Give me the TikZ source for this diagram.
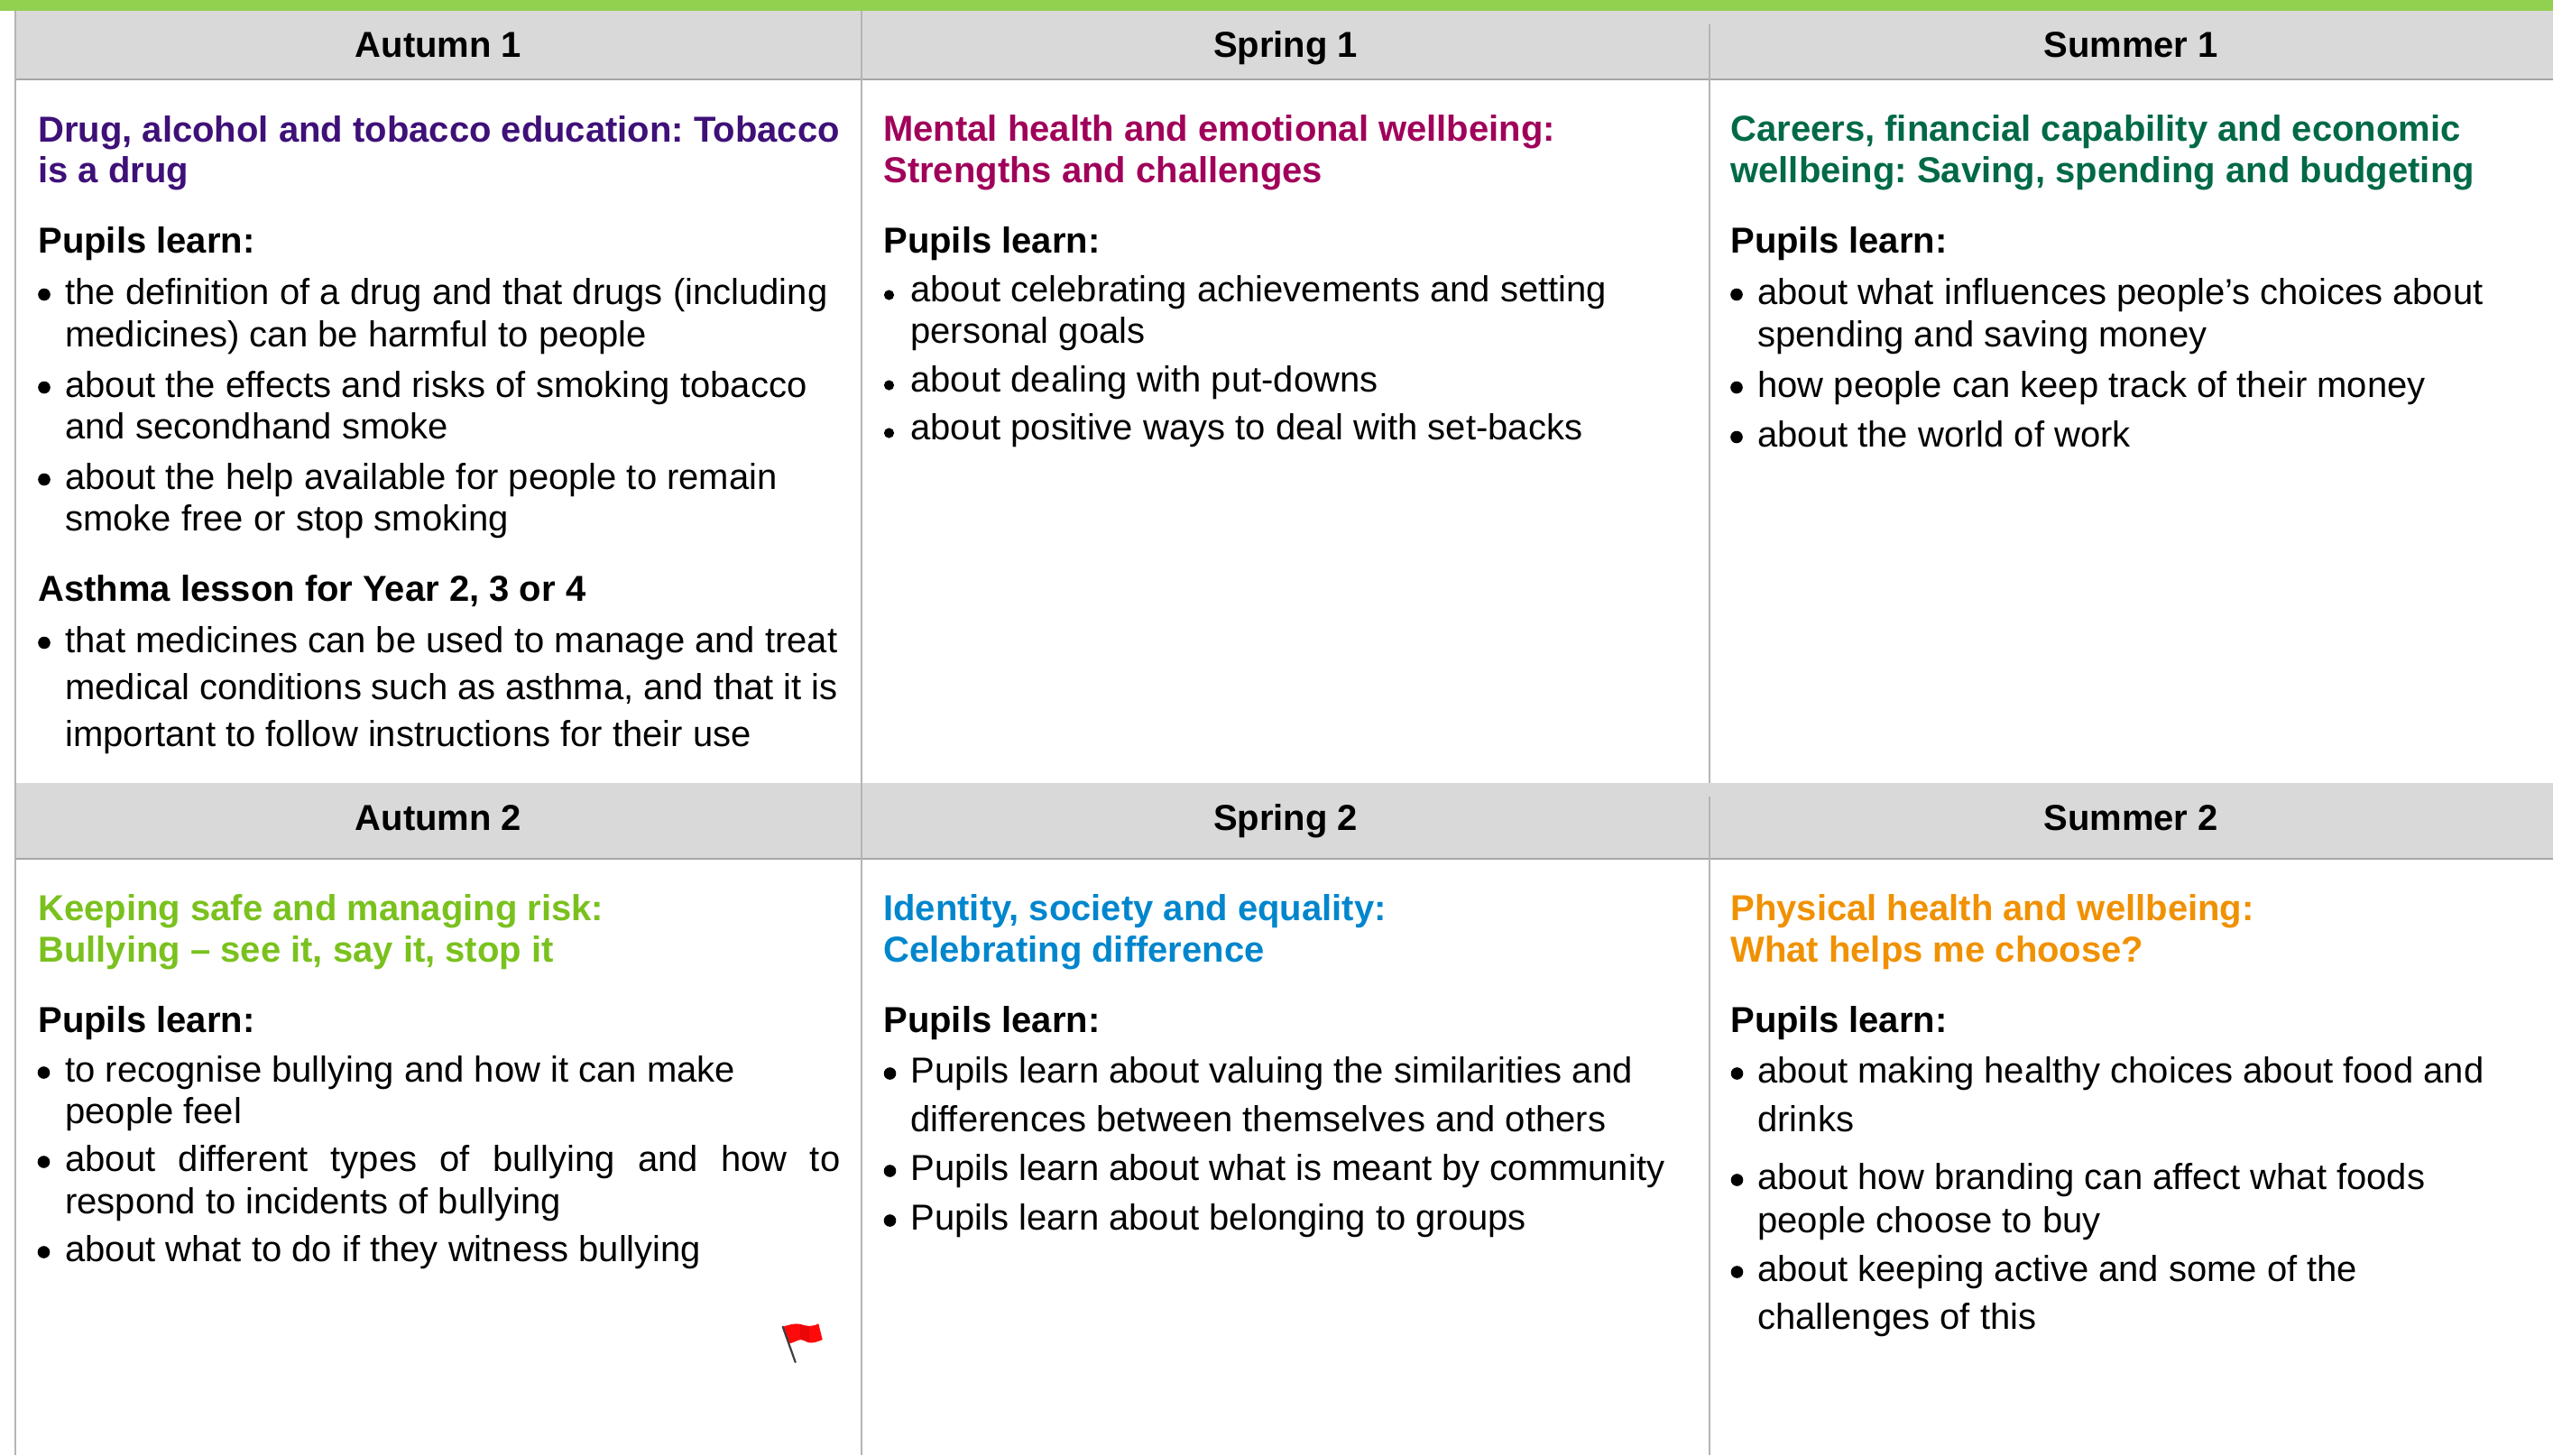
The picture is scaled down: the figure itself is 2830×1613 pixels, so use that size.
\documentclass[tikz,border=0pt]{standalone}
\usepackage{fontspec}
\setmainfont{Liberation Sans}
\frenchspacing
\definecolor{topgreen}{HTML}{92D050}
\definecolor{hdrgray}{HTML}{D9D9D9}
\definecolor{rulegray}{HTML}{A6A6A6}
\definecolor{vgray}{HTML}{B4B4B4}
\definecolor{cpurple}{HTML}{3E1078}
\definecolor{ccrimson}{HTML}{A0005A}
\definecolor{cgreen}{HTML}{006948}
\definecolor{clime}{HTML}{7AC11E}
\definecolor{cblue}{HTML}{0086CD}
\definecolor{corange}{HTML}{F09100}
\definecolor{flagred}{HTML}{FF0A0A}
\newcommand\bodyfont{\fontsize{20}{24}\selectfont\frenchspacing}
\tikzset{
  hdr/.style={anchor=base, inner sep=0pt, font=\bodyfont\bfseries},
  ttl/.style={anchor=base west, inner sep=0pt, font=\bodyfont\bfseries},
  lbl/.style={anchor=base west, inner sep=0pt, font=\bodyfont\bfseries},
  txt/.style={anchor=base west, inner sep=0pt, font=\bodyfont},
  dot/.style={fill=black},
  hline/.style={draw=rulegray, line width=1pt},
  vline/.style={draw=vgray, line width=0.75pt},
}
\begin{document}
\begin{tikzpicture}[x=0.5pt,y=-0.5pt]
\useasboundingbox (0,0) rectangle (2830,1613);
\fill[white] (0,0) rectangle (2830,1613);
% top bar and header bands
\fill[topgreen] (0,0) rectangle (2830,11.5);
\fill[hdrgray] (17,11.5) rectangle (2830,88);
\fill[hdrgray] (17,868) rectangle (2830,952);
\draw[hline] (17,88) -- (2830,88);
\draw[hline] (17,952) -- (2830,952);
\draw[vline] (17,11.5) -- (17,1613);
\draw[vline] (955,11.5) -- (955,1613);
\draw[vline] (1895,27) -- (1895,868);
\draw[vline] (1895,883) -- (1895,1613);

% headers
\node[hdr] (h1) at (486,63) {Autumn 1};
\node[hdr] (h2) at (1425,63) {Spring 1};
\node[hdr] (h3) at (2362,63) {Summer 1};
\node[hdr] (h4) at (486,920) {Autumn 2};
\node[hdr] (h5) at (1425,920) {Spring 2};
\node[hdr] (h6) at (2362,920) {Summer 2};

% ---------- Autumn 1 ----------
\node[ttl, text=cpurple] (a1t1) at (42,157) {Drug, alcohol and tobacco education: Tobacco};
\node[ttl, text=cpurple] (a1t2) at (42,202) {is a drug};
\node[lbl] (a1p) at (42,280) {Pupils learn:};
\fill[dot] (49,326.5) circle[radius=3.4pt];
\node[txt] (a1b1a) at (72,337) {the definition of a drug and that drugs (including};
\node[txt] (a1b1b) at (72,384) {medicines) can be harmful to people};
\fill[dot] (49,429.5) circle[radius=3.4pt];
\node[txt] (a1b2a) at (72,440) {about the effects and risks of smoking tobacco};
\node[txt] (a1b2b) at (72,486) {and secondhand smoke};
\fill[dot] (49,531.5) circle[radius=3.4pt];
\node[txt] (a1b3a) at (72,542) {about the help available for people to remain};
\node[txt] (a1b3b) at (72,588) {smoke free or stop smoking};
\node[lbl] (a1q) at (42,666) {Asthma lesson for Year 2, 3 or 4};
\fill[dot] (49,712.5) circle[radius=3.4pt];
\node[txt] (a1b4a) at (72,723) {\makebox[428pt][s]{that medicines can be used to manage and treat}};
\node[txt] (a1b4b) at (72,775) {\makebox[428pt][s]{medical conditions such as asthma, and that it is}};
\node[txt] (a1b4c) at (72,827) {important to follow instructions for their use};

% ---------- Spring 1 ----------
\node[ttl, text=ccrimson] (s1t1) at (979,156) {Mental health and emotional wellbeing:};
\node[ttl, text=ccrimson] (s1t2) at (979,202) {Strengths and challenges};
\node[lbl] (s1p) at (979,280) {Pupils learn:};
\fill[dot] (985.5,327) circle[radius=2.8pt];
\node[txt] (s1b1a) at (1009,334) {about celebrating achievements and setting};
\node[txt] (s1b1b) at (1009,380) {personal goals};
\fill[dot] (985.5,427) circle[radius=2.8pt];
\node[txt] (s1b2) at (1009,434) {about dealing with put-downs};
\fill[dot] (985.5,480) circle[radius=2.8pt];
\node[txt] (s1b3) at (1009,487) {about positive ways to deal with set-backs};

% ---------- Summer 1 ----------
\node[ttl, text=cgreen] (u1t1) at (1918,156) {Careers, financial capability and economic};
\node[ttl, text=cgreen] (u1t2) at (1918,202) {wellbeing: Saving, spending and budgeting};
\node[lbl] (u1p) at (1918,280) {Pupils learn:};
\fill[dot] (1925,326.5) circle[radius=3.4pt];
\node[txt] (u1b1a) at (1948,337) {about what influences people’s choices about};
\node[txt] (u1b1b) at (1948,384) {spending and saving money};
\fill[dot] (1925,429.5) circle[radius=3.4pt];
\node[txt] (u1b2) at (1948,440) {how people can keep track of their money};
\fill[dot] (1925,484.5) circle[radius=3.4pt];
\node[txt] (u1b3) at (1948,495) {about the world of work};

% ---------- Autumn 2 ----------
\node[ttl, text=clime] (a2t1) at (42,1020) {Keeping safe and managing risk:};
\node[ttl, text=clime] (a2t2) at (42,1066) {Bullying – see it, say it, stop it};
\node[lbl] (a2p) at (42,1144) {Pupils learn:};
\fill[dot] (48.5,1189) circle[radius=3.4pt];
\node[txt] (a2b1a) at (72,1199) {to recognise bullying and how it can make};
\node[txt] (a2b1b) at (72,1245) {people feel};
\fill[dot] (48.5,1288) circle[radius=3.4pt];
\node[txt] (a2b2a) at (72,1298) {\makebox[429.5pt][s]{about different types of bullying and how to}};
\node[txt] (a2b2b) at (72,1345) {respond to incidents of bullying};
\fill[dot] (48.5,1388) circle[radius=3.4pt];
\node[txt] (a2b3) at (72,1398) {about what to do if they witness bullying};
% flag
\fill[flagred] (867.7,1470.7) .. controls (875,1468.5) and (881,1466.5) .. (887,1467.8)
  .. controls (892,1469.5) and (899,1471.5) .. (907.3,1467.3)
  -- (911.7,1485)
  .. controls (905,1488) and (900,1489) .. (896.7,1488.3)
  .. controls (892,1487) and (890.5,1484.5) .. (887.3,1485)
  .. controls (883,1485.8) and (879,1489) .. (874.3,1489.2) -- cycle;
\fill[red!75!black, opacity=0.35] (887,1467.8) .. controls (892,1469.5) and (894,1470.5) .. (897,1470.8)
  -- (896.7,1488.3) .. controls (892,1487) and (890.5,1484.5) .. (887.3,1485) -- cycle;
\draw[line width=1.1pt, black!75, line cap=round] (867.7,1470.7) -- (881.7,1510);

% ---------- Spring 2 ----------
\node[ttl, text=cblue] (s2t1) at (979,1020) {Identity, society and equality:};
\node[ttl, text=cblue] (s2t2) at (979,1066) {Celebrating difference};
\node[lbl] (s2p) at (979,1144) {Pupils learn:};
\fill[dot] (986.5,1190) circle[radius=3.4pt];
\node[txt] (s2b1a) at (1009,1200) {Pupils learn about valuing the similarities and};
\node[txt] (s2b1b) at (1009,1254) {differences between themselves and others};
\fill[dot] (986.5,1298) circle[radius=3.4pt];
\node[txt] (s2b2) at (1009,1308) {Pupils learn about what is meant by community};
\fill[dot] (986.5,1353) circle[radius=3.4pt];
\node[txt] (s2b3) at (1009,1363) {Pupils learn about belonging to groups};

% ---------- Summer 2 ----------
\node[ttl, text=corange] (u2t1) at (1918,1020) {Physical health and wellbeing:};
\node[ttl, text=corange] (u2t2) at (1918,1066) {What helps me choose?};
\node[lbl] (u2p) at (1918,1144) {Pupils learn:};
\fill[dot] (1925.5,1190) circle[radius=3.4pt];
\node[txt] (u2b1a) at (1948,1200) {about making healthy choices about food and};
\node[txt] (u2b1b) at (1948,1254) {drinks};
\fill[dot] (1925.5,1308) circle[radius=3.4pt];
\node[txt] (u2b2a) at (1948,1318) {about how branding can affect what foods};
\node[txt] (u2b2b) at (1948,1366) {people choose to buy};
\fill[dot] (1925.5,1410) circle[radius=3.4pt];
\node[txt] (u2b3a) at (1948,1420) {about keeping active and some of the};
\node[txt] (u2b3b) at (1948,1473) {challenges of this};
\end{tikzpicture}
\end{document}
